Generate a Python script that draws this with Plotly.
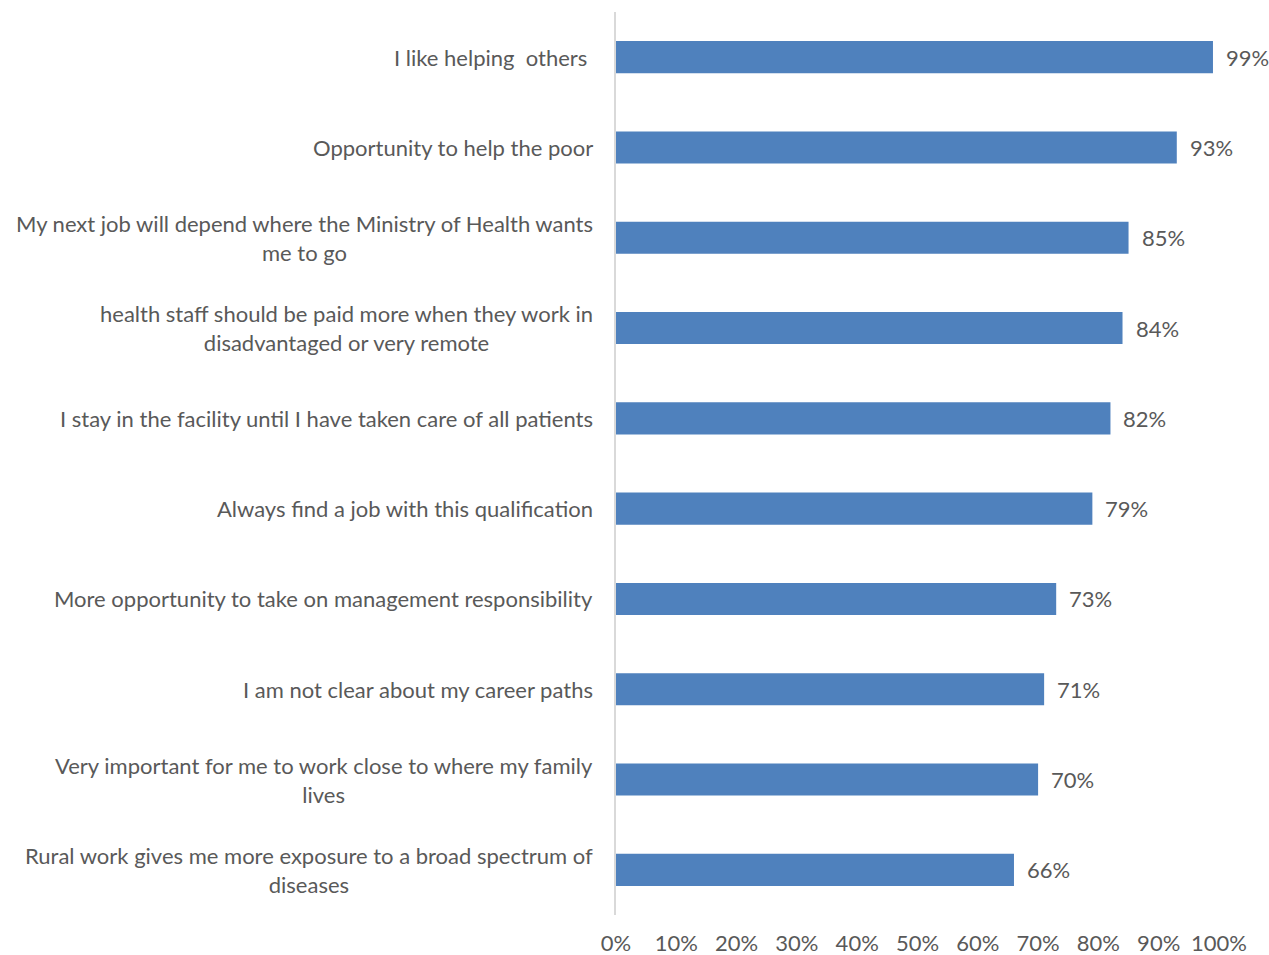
import plotly.graph_objects as go

# Survey statements (top to bottom) and share of respondents agreeing
statements = [
    "I like helping\u00a0 others\u00a0",
    "Opportunity to help the poor",
    "My next job will depend where the Ministry of Health wants<br>me to go",
    "health staff should be paid more when they work in<br>disadvantaged or very remote",
    "I stay in the facility until I have taken care of all patients",
    "Always find a job with this qualification",
    "More opportunity to take on management responsibility",
    "I am not clear about my career paths",
    "Very important for me to work close to where my family<br>lives",
    "Rural work gives me more exposure to a broad spectrum of<br>diseases",
]
shares = [0.99, 0.93, 0.85, 0.84, 0.82, 0.79, 0.73, 0.71, 0.70, 0.66]
x_ticks = [0, 0.1, 0.2, 0.3, 0.4, 0.5, 0.6, 0.7, 0.8, 0.9, 1.0]
x_tick_labels = ["0%", "10%", "20%", "30%", "40%", "50%", "60%", "70%", "80%", "90%", "100%"]

FONT = "Lato, 'Open Sans', sans-serif"
GREY = "#595959"
BAR = "#4F81BD"
SIZE = 22

cats = list(range(len(statements)))

fig = go.Figure(
    go.Bar(
        x=shares,
        y=cats,
        orientation="h",
        marker=dict(color=BAR, line=dict(width=0)),
        hoverinfo="skip",
    )
)

annotations = []
for i, (s, v) in enumerate(zip(statements, shares)):
    annotations.append(dict(
        x=0, y=i, xref="x", yref="y", text=s, showarrow=False,
        xanchor="right", yanchor="middle", align="center", xshift=-21,
        font=dict(family=FONT, size=SIZE, color=GREY),
    ))
    annotations.append(dict(
        x=v, y=i, xref="x", yref="y", text=f"{round(v * 100)}%", showarrow=False,
        xanchor="left", yanchor="middle", xshift=11,
        font=dict(family=FONT, size=SIZE, color=GREY),
    ))

fig.update_layout(
    width=1269, height=955,
    margin=dict(l=616, r=50, t=12, b=40),
    paper_bgcolor="white", plot_bgcolor="white",
    showlegend=False,
    bargap=0.645,
    annotations=annotations,
    font=dict(family=FONT, size=SIZE, color=GREY),
    xaxis=dict(
        range=[0, 1.0], tickvals=x_ticks, ticktext=x_tick_labels,
        showgrid=False, zeroline=False, showline=False, automargin=False,
        ticks="outside", ticklen=9, tickcolor="rgba(0,0,0,0)",
        tickfont=dict(family=FONT, size=SIZE, color=GREY),
    ),
    yaxis=dict(
        autorange="reversed", automargin=False,
        showticklabels=False, showgrid=False, zeroline=False,
        showline=True, linecolor="#D9D9D9", linewidth=1.5,
    ),
)

fig.write_html("out.html")
